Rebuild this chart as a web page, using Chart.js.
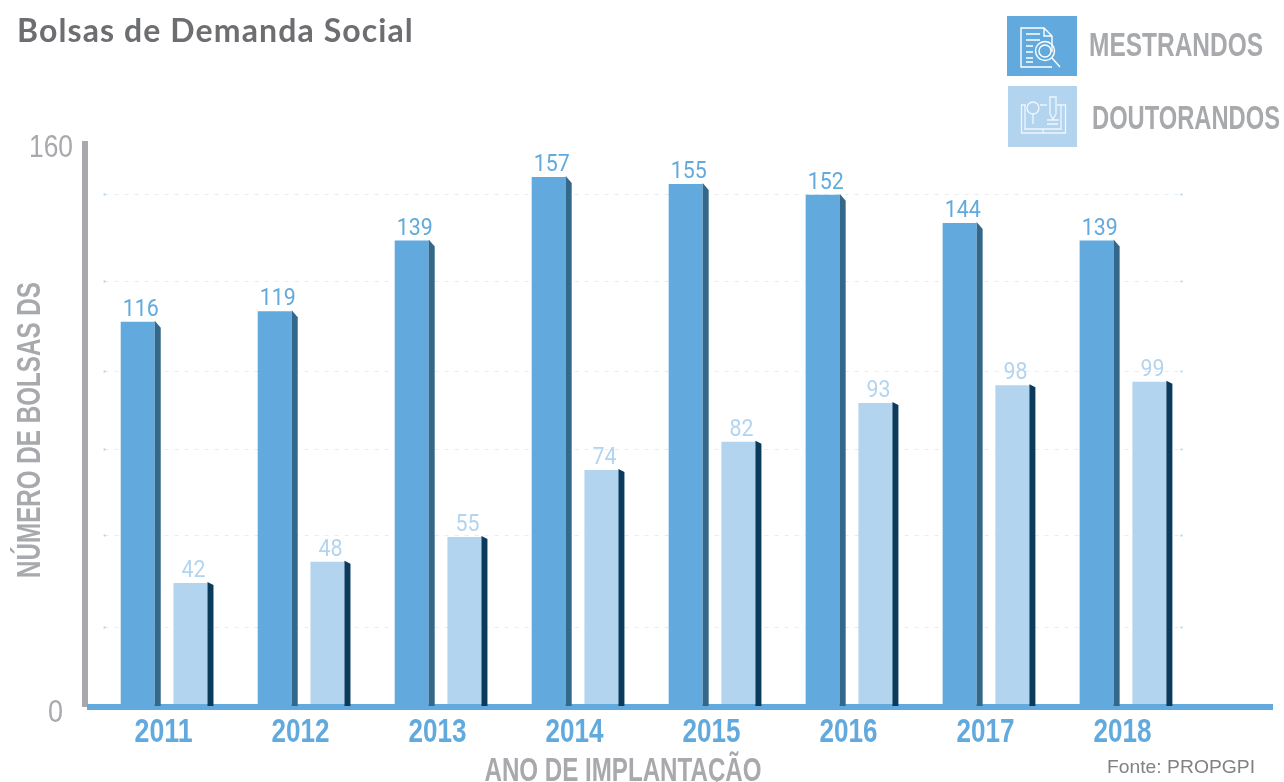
<!DOCTYPE html>
<html>
<head>
<meta charset="utf-8">
<title>Bolsas de Demanda Social</title>
<script src="https://cdn.jsdelivr.net/npm/chart.js@4"></script>
<style>
    html, body { margin: 0; padding: 0; background: #fff; overflow: hidden; }
    canvas { display: block; }
</style>
</head>
<body>
<canvas id="chart" width="1284" height="782"></canvas>
<script>
const years = ['2011', '2012', '2013', '2014', '2015', '2016', '2017', '2018'];
const mestrandos = [116, 119, 139, 157, 155, 152, 144, 139];
const doutorandos = [42, 48, 55, 74, 82, 93, 98, 99];

// the source picture labels the two ends of its axis 0 and 160
const axisBottom = 7.7;
const axisTop = 167.2;
const axisBottomLabel = '0';
const axisTopLabel = '160';
const gridValues = [29.6, 55.5, 80, 102, 127.4, 152.3];

const BLUE = '#62aadd';
const LIGHT = '#b3d4ef';
const GREY = '#a7a9ac';
const SANS = '"Liberation Sans"';

function text(ctx, str, x, y, font, color, align, spacing) {
    ctx.font = font;
    ctx.fillStyle = color;
    ctx.textAlign = align || 'left';
    ctx.textBaseline = 'middle';
    ctx.letterSpacing = spacing || '0px';
    ctx.fillText(str, x, y);
    ctx.letterSpacing = '0px';
}

// no condensed face is installed, so squeeze the text into the width it has in the picture
function narrowText(ctx, str, cx, cy, width, font, color) {
    ctx.save();
    ctx.font = font;
    const natural = ctx.measureText(str).width;
    ctx.translate(cx, cy);
    ctx.scale(width / natural, 1);
    text(ctx, str, 0, 0, font, color, 'center');
    ctx.restore();
}

function drawDocIcon(ctx) {
    ctx.strokeStyle = '#fff';
    ctx.lineWidth = 1.4;
    ctx.beginPath();
    ctx.moveTo(1052, 52);
    ctx.lineTo(1052, 36);
    ctx.lineTo(1044, 28);
    ctx.lineTo(1021, 28);
    ctx.lineTo(1021, 67);
    ctx.lineTo(1052, 67);
    ctx.moveTo(1044, 28);
    ctx.lineTo(1044, 36);
    ctx.lineTo(1052, 36);
    [34, 40, 46, 52, 58, 62].forEach(function (y, i) {
        ctx.moveTo(1026, y);
        ctx.lineTo(i < 2 ? 1040 : 1033, y);
    });
    ctx.stroke();
    ctx.beginPath();
    ctx.arc(1045, 51, 9.5, 0, Math.PI * 2);
    ctx.moveTo(1051, 51);
    ctx.arc(1045, 51, 6, 0, Math.PI * 2);
    ctx.moveTo(1052, 58);
    ctx.lineTo(1060, 67);
    ctx.stroke();
}

function drawBookIcon(ctx) {
    ctx.strokeStyle = 'rgba(255,255,255,0.8)';
    ctx.lineWidth = 1.3;
    ctx.beginPath();
    ctx.rect(1021.5, 105, 44, 28);
    ctx.moveTo(1025, 105);
    ctx.lineTo(1025, 129);
    ctx.lineTo(1043, 129);
    ctx.lineTo(1043, 133);
    ctx.moveTo(1061, 105);
    ctx.lineTo(1061, 129);
    ctx.lineTo(1043, 129);
    ctx.stroke();
    ctx.fillStyle = LIGHT;
    ctx.fillRect(1026, 100, 14, 15);
    ctx.fillRect(1047, 96, 10, 22);
    ctx.beginPath();
    ctx.arc(1033, 108, 6, 0, Math.PI * 2);
    ctx.moveTo(1033, 114);
    ctx.lineTo(1033, 124);
    ctx.moveTo(1050, 97);
    ctx.lineTo(1050, 114);
    ctx.lineTo(1053, 119);
    ctx.lineTo(1056, 114);
    ctx.lineTo(1056, 97);
    ctx.closePath();
    ctx.moveTo(1047, 120);
    ctx.lineTo(1059, 120);
    ctx.moveTo(1047, 124);
    ctx.lineTo(1058, 124);
    ctx.stroke();
}

const backdrop = {
    id: 'backdrop',
    beforeDatasetsDraw(chart) {
        const ctx = chart.ctx;
        const area = chart.chartArea;
        const y = chart.scales.y;
        ctx.save();
        // dotted grid stops a little short of the category band
        gridValues.forEach(function (v) {
            const py = Math.round(y.getPixelForValue(v)) + 0.5;
            ctx.strokeStyle = '#e3edf6';
            ctx.lineWidth = 1;
            ctx.setLineDash([4, 6]);
            ctx.beginPath();
            ctx.moveTo(area.left + 9, py);
            ctx.lineTo(area.right - 10, py);
            ctx.stroke();
            ctx.setLineDash([]);
            ctx.fillStyle = LIGHT;
            ctx.fillRect(area.left + 8, py - 1, 2, 2);
            ctx.fillRect(area.right - 11, py - 1, 2, 2);
        });
        // axis lines
        ctx.fillStyle = GREY;
        ctx.fillRect(82, 141, 6, 566);
        ctx.fillStyle = BLUE;
        ctx.fillRect(87, area.bottom, 1186, 6);
        ctx.restore();
    },
    afterDatasetsDraw(chart) {
        const ctx = chart.ctx;
        const base = chart.chartArea.bottom + 2;
        ctx.save();
        chart.data.datasets.forEach(function (ds, i) {
            chart.getDatasetMeta(i).data.forEach(function (bar, j) {
                const right = bar.x + bar.width / 2;
                // side face of the bar
                ctx.fillStyle = ds.sideColor;
                ctx.beginPath();
                ctx.moveTo(right, bar.y - 1);
                ctx.lineTo(right + 6, bar.y + ds.chamfer);
                ctx.lineTo(right + 6, base);
                ctx.lineTo(right, base);
                ctx.closePath();
                ctx.fill();
                narrowText(ctx, String(ds.data[j]), bar.x + 3, bar.y - 12, String(ds.data[j]).length * 12, '400 24px Roboto', ds.backgroundColor);
            });
        });
        ctx.restore();
    },
    afterDraw(chart) {
        const ctx = chart.ctx;
        ctx.save();
        text(ctx, 'Bolsas de Demanda Social', 17, 32, '700 32px Lato', '#6d6e71', 'left', '1.1px');

        ctx.fillStyle = BLUE;
        ctx.fillRect(1007, 16, 70, 60);
        drawDocIcon(ctx);
        ctx.fillStyle = LIGHT;
        ctx.fillRect(1008, 86, 69, 61);
        drawBookIcon(ctx);
        narrowText(ctx, 'MESTRANDOS', 1176, 47, 174, 'bold 33px ' + SANS, GREY);
        narrowText(ctx, 'DOUTORANDOS', 1186, 120, 188, 'bold 33px ' + SANS, GREY);

        // axis labels come from the scales, the faces are squeezed like the rest
        chart.scales.x.ticks.forEach(function (tick, i) {
            narrowText(ctx, tick.label, chart.scales.x.getPixelForTick(i) - 0.5, 733, 58, 'bold 33px ' + SANS, BLUE);
        });
        const yTicks = chart.scales.y.ticks;
        narrowText(ctx, yTicks[0].label, 55.5, chart.scales.y.getPixelForTick(0) + 9, 15, '31px ' + SANS, GREY);
        narrowText(ctx, yTicks[1].label, 51, chart.scales.y.getPixelForTick(1) + 7, 44, '31px ' + SANS, GREY);

        narrowText(ctx, 'ANO DE IMPLANTAÇÃO', 623, 772, 277, 'bold 34px ' + SANS, GREY);
        narrowText(ctx, 'Fonte: PROPGPI', 1181, 768, 148, '19px ' + SANS, '#808285');

        ctx.translate(31, 430);
        ctx.rotate(-Math.PI / 2);
        narrowText(ctx, 'NÚMERO DE BOLSAS DS', 0, 0, 296, 'bold 34px ' + SANS, GREY);
        ctx.restore();
    }
};

const config = {
    type: 'bar',
    data: {
        labels: years,
        datasets: [{
            label: 'Mestrandos',
            data: mestrandos,
            backgroundColor: BLUE,
            sideColor: '#34688a',
            chamfer: 6
        }, {
            label: 'Doutorandos',
            data: doutorandos,
            backgroundColor: LIGHT,
            sideColor: '#0a3a5c',
            chamfer: 2
        }]
    },
    plugins: [backdrop],
    options: {
        responsive: false,
        animation: false,
        categoryPercentage: 0.77,
        barPercentage: 0.645,
        layout: {
            padding: { top: 141, right: 92.5 }
        },
        plugins: {
            legend: { display: false },
            title: { display: false },
            tooltip: { enabled: false }
        },
        scales: {
            x: {
                afterFit(scale) { scale.height = 78; },
                border: { display: false },
                grid: { display: false },
                ticks: { display: false }
            },
            y: {
                min: axisBottom,
                max: axisTop,
                afterFit(scale) { scale.width = 95.6; },
                afterBuildTicks(scale) {
                    scale.ticks = [{ value: axisBottom }, { value: axisTop }];
                },
                border: { display: false },
                grid: { display: false },
                ticks: {
                    display: false,
                    callback(value) { return value === axisTop ? axisTopLabel : axisBottomLabel; }
                }
            }
        }
    }
};

new Chart(document.getElementById('chart'), config);
</script>
</body>
</html>
